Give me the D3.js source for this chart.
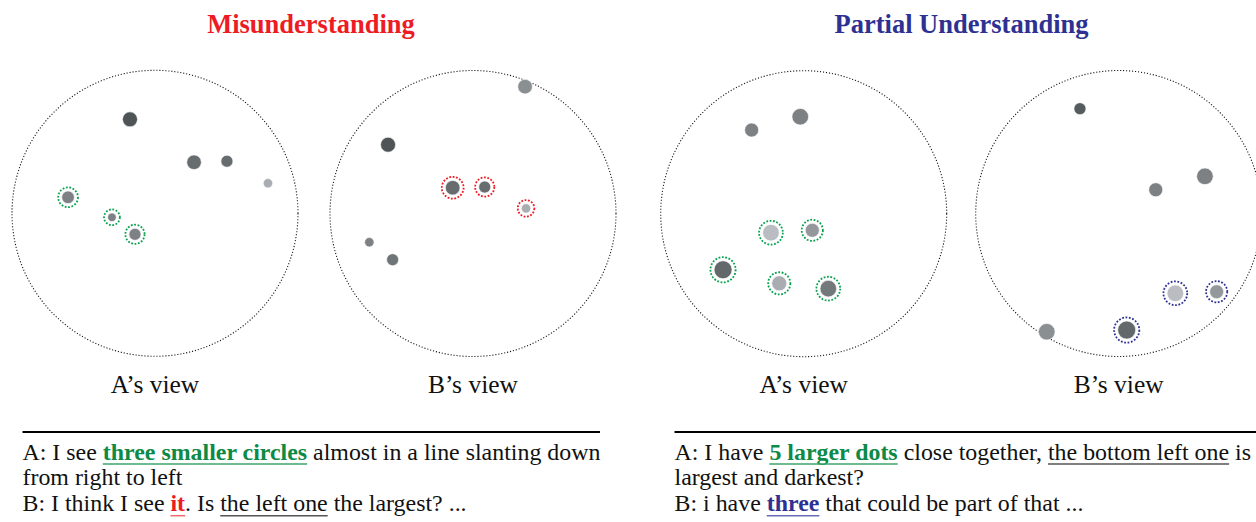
<!DOCTYPE html>
<html>
<head>
<meta charset="utf-8">
<script src="https://cdn.jsdelivr.net/npm/d3@7"></script>
<style>
  html, body { margin: 0; padding: 0; background: #fff; }
  svg { display: block; }
</style>
</head>
<body>
<svg id="chart" width="1256" height="522"></svg>
<script>
// ---------------- DATA ----------------
const titles = ["Misunderstanding", "Partial Understanding"];
const viewLabels = ["A\u2019s view", "B\u2019s view", "A\u2019s view", "B\u2019s view"];

// each dot: [x, y, size, lightness, marked]  (x,y in view units -1..1)
const dotsMisA = [
  [-0.175, -0.657, 7.5, 0.00, 0],
  [ 0.273, -0.357, 7.3, 0.23, 0],
  [ 0.503, -0.364, 6.0, 0.23, 0],
  [ 0.790, -0.210, 4.7, 0.85, 0],
  [-0.608, -0.112, 6.3, 0.43, 1],
  [-0.301,  0.028, 4.3, 0.43, 1],
  [-0.140,  0.147, 6.0, 0.43, 1]
];
const dotsMisB = [
  [ 0.364, -0.887, 7.3, 0.56, 0],
  [-0.594, -0.481, 7.5, 0.00, 0],
  [-0.142, -0.180, 7.3, 0.23, 1],
  [ 0.082, -0.185, 6.0, 0.23, 1],
  [ 0.371, -0.036, 4.7, 0.85, 1],
  [-0.725,  0.201, 4.7, 0.43, 0],
  [-0.562,  0.323, 6.0, 0.30, 0]
];
const dotsPartA = [
  [-0.364, -0.585, 7.0, 0.43, 0],
  [-0.024, -0.678, 8.3, 0.43, 0],
  [-0.229,  0.133, 8.3, 1.00, 1],
  [ 0.060,  0.116, 7.0, 0.65, 1],
  [-0.564,  0.392, 9.0, 0.19, 1],
  [-0.171,  0.487, 7.5, 0.85, 1],
  [ 0.172,  0.524, 8.3, 0.34, 1]
];
const dotsPartB = [
  [-0.271, -0.733, 6.0, 0.07, 0],
  [ 0.259, -0.166, 7.0, 0.43, 0],
  [ 0.603, -0.260, 8.3, 0.43, 0],
  [ 0.396,  0.558, 8.3, 1.00, 1],
  [ 0.685,  0.547, 7.0, 0.65, 1],
  [ 0.056,  0.815, 9.0, 0.19, 1],
  [-0.503,  0.827, 8.3, 0.56, 0]
];

// dialogue segments: [text, style]
const dialogLeft = [
  [["A: I see ", "plain"], ["three smaller circles", "green"], [" almost in a line slanting down", "plain"]],
  [["from right to left", "plain"]],
  [["B: I think I see ", "plain"], ["it", "red"], [". Is ", "plain"], ["the left one", "under"], [" the largest? ...", "plain"]]
];
const dialogRight = [
  [["A: I have ", "plain"], ["5 larger dots", "green"], [" close together, ", "plain"], ["the bottom left one", "under"], [" is", "plain"]],
  [["largest and darkest?", "plain"]],
  [["B: i have ", "plain"], ["three", "navy"], [" that could be part of that ...", "plain"]]
];

// ---------------- LAYOUT / STYLE ----------------
const FONT = "'Liberation Serif', 'Times New Roman', Times, serif";
const RED = "#ed1c24", NAVY = "#2e3192", GREEN_TXT = "#0c8a46", GREEN_RING = "#0aa14f";
const svg = d3.select("#chart");

const panels = [
  { title: titles[0], color: RED, cx: 311, views: [
      { cx: 155, cy: 213.3, dots: dotsMisA, ring: GREEN_RING, label: viewLabels[0] },
      { cx: 473, cy: 213.5, dots: dotsMisB, ring: RED, label: viewLabels[1] } ],
    dialog: dialogLeft, x0: 22.5, lineX1: 600 },
  { title: titles[1], color: NAVY, cx: 961.5, views: [
      { cx: 803.7, cy: 213.7, dots: dotsPartA, ring: GREEN_RING, label: viewLabels[2] },
      { cx: 1118.7, cy: 213.5, dots: dotsPartB, ring: NAVY, label: viewLabels[3] } ],
    dialog: dialogRight, x0: 674.5, lineX1: 1256 }
];

const R = 143;
const sizeScale = d3.scaleLinear().domain([0, 10]).range([0, 10]);
const shade = d3.scaleLinear().domain([0, 1]).range(["#4f5556", "#b9bcc1"]).interpolate(d3.interpolateRgb);

panels.forEach(p => {
  svg.append("text")
    .attr("x", p.cx).attr("y", 33)
    .attr("text-anchor", "middle")
    .attr("font-family", FONT).attr("font-weight", "bold").attr("font-size", 26.5)
    .attr("fill", p.color)
    .text(p.title);

  p.views.forEach(v => {
    const xs = d3.scaleLinear().domain([-1, 1]).range([v.cx - R, v.cx + R]);
    const ys = d3.scaleLinear().domain([-1, 1]).range([v.cy - R, v.cy + R]);
    const g = svg.append("g");
    g.append("circle")
      .attr("cx", v.cx).attr("cy", v.cy).attr("r", R)
      .attr("fill", "none").attr("stroke", "#111")
      .attr("stroke-width", 1.1).attr("stroke-dasharray", "1.1 1.9");

    g.selectAll("circle.ring").data(v.dots.filter(d => d[4]))
      .join("circle").attr("class", "ring")
      .attr("cx", d => xs(d[0])).attr("cy", d => ys(d[1]))
      .attr("r", d => sizeScale(d[2]) + 3.6)
      .attr("fill", "none").attr("stroke", v.ring)
      .attr("stroke-width", 1.8).attr("stroke-dasharray", "1.8 1.6");

    g.selectAll("circle.dot").data(v.dots)
      .join("circle").attr("class", "dot")
      .attr("cx", d => xs(d[0])).attr("cy", d => ys(d[1]))
      .attr("r", d => sizeScale(d[2]))
      .attr("fill", d => shade(d[3]))
      .attr("stroke", "#fff").attr("stroke-width", 0.6);

    svg.append("text")
      .attr("x", v.cx).attr("y", 393)
      .attr("text-anchor", "middle")
      .attr("font-family", FONT).attr("font-size", 25.5)
      .attr("fill", "#111")
      .text(v.label);
  });

  // rule
  svg.append("line")
    .attr("x1", p.x0).attr("x2", p.lineX1).attr("y1", 432).attr("y2", 432)
    .attr("stroke", "#000").attr("stroke-width", 2);

  // dialogue
  const styleMap = {
    plain: { fill: "#111", weight: "normal", ul: null },
    green: { fill: GREEN_TXT, weight: "bold", ul: "#3fa56c" },
    red:   { fill: RED, weight: "bold", ul: "#f26a6f" },
    navy:  { fill: NAVY, weight: "bold", ul: "#6a6cb5" },
    under: { fill: "#111", weight: "normal", ul: "#555" }
  };
  p.dialog.forEach((line, i) => {
    const y = 459.5 + i * 25.8;
    const t = svg.append("text")
      .attr("x", p.x0).attr("y", y)
      .attr("font-family", FONT).attr("font-size", 23.9)
      .attr("xml:space", "preserve")
      .style("white-space", "pre");
    const spans = [];
    line.forEach(seg => {
      const st = styleMap[seg[1]];
      const ts = t.append("tspan").attr("fill", st.fill).attr("font-weight", st.weight).text(seg[0]);
      spans.push([ts, st]);
    });
    spans.forEach(([ts, st]) => {
      if (!st.ul) return;
      const b = ts.node().getBBox();
      svg.append("line")
        .attr("x1", b.x).attr("x2", b.x + b.width)
        .attr("y1", y + 4.6).attr("y2", y + 4.6)
        .attr("stroke", st.ul).attr("stroke-width", 1.5);
    });
  });
});
</script>
</body>
</html>
